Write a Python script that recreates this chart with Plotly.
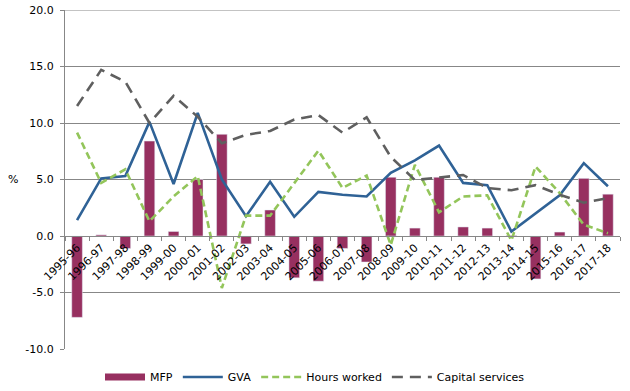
import plotly.graph_objects as go

years = ["1995-96","1996-97","1997-98","1998-99","1999-00","2000-01","2001-02","2002-03",
         "2003-04","2004-05","2005-06","2006-07","2007-08","2008-09","2009-10","2010-11",
         "2011-12","2012-13","2013-14","2014-15","2015-16","2016-17","2017-18"]
mfp = [-7.2, 0.1, -1.1, 8.4, 0.4, 5.0, 9.0, -0.7, 2.3, -3.7, -4.0, -1.1, -2.3, 5.2, 0.7, 5.2,
       0.8, 0.7, 0.05, -3.8, 0.35, 5.1, 3.7]
gva = [1.4, 5.1, 5.3, 10.1, 4.6, 10.9, 5.0, 1.75, 4.8, 1.7, 3.9, 3.65, 3.5, 5.6, 6.7, 8.0,
       4.7, 4.5, 0.4, 2.0, 3.6, 6.45, 4.4]
hours = [9.15, 4.7, 5.9, 1.3, 3.5, 5.3, -4.6, 1.8, 1.8, 4.7, 7.55, 4.25, 5.35, -0.8, 6.3, 2.1,
         3.5, 3.6, -0.4, 6.15, 3.8, 1.0, 0.25]
capital = [11.5, 14.7, 13.65, 10.0, 12.4, 10.55, 8.2, 8.95, 9.3, 10.3, 10.7, 9.15, 10.5, 7.0,
           4.95, 5.2, 5.4, 4.25, 4.05, 4.5, 3.65, 2.95, 3.35]
y_tickvals = [-10, -5, 0, 5, 10, 15, 20]
y_ticktext = ["-10.0", "-5.0", "0.0", "5.0", "10.0", "15.0", "20.0"]

FONT = "DejaVu Sans"
MFP_COLOR = "#973060"
GRID = "#878787"
fig = go.Figure()
fig.add_trace(go.Bar(x=years, y=mfp, name="MFP", marker_color=MFP_COLOR, width=0.44,
                     showlegend=False, legendgroup="mfp"))
# legend swatch for MFP (wide rectangle as in the reference)
fig.add_trace(go.Scatter(x=[None], y=[None], name="MFP", mode="lines", legendgroup="mfp",
                         line=dict(color=MFP_COLOR, width=7)))
fig.add_trace(go.Scatter(x=years, y=gva, name="GVA", mode="lines",
                         line=dict(color="#2F6296", width=2.6)))
fig.add_trace(go.Scatter(x=years, y=hours, name="Hours worked", mode="lines",
                         line=dict(color="#93C55A", width=2.6, dash="7px,4px")))
fig.add_trace(go.Scatter(x=years, y=capital, name="Capital services", mode="lines",
                         line=dict(color="#5F5F5F", width=2.6, dash="11px,7px")))

W, H = 630, 391
L, R, T, B = 65, 10, 10, 41.5
fig.update_layout(
    width=W, height=H,
    margin=dict(l=L, r=R, t=T, b=B, autoexpand=False, pad=0),
    plot_bgcolor="white", paper_bgcolor="white",
    font=dict(family=FONT, size=11, color="#000000"),
    showlegend=True,
    legend=dict(orientation="h", x=0.5, xanchor="center", xref="container",
                y=14 / H, yanchor="middle", yref="container",
                font=dict(family=FONT, size=11), itemwidth=40, tracegroupgap=0),
    xaxis=dict(type="category", anchor="free", position=1/3, tickangle=-45,
               showgrid=False, showline=True, linecolor=GRID, linewidth=1,
               ticks="outside", ticklen=4, tickcolor=GRID, tickson="boundaries",
               tickfont=dict(family=FONT, size=11), range=[-0.5, 22.5]),
    yaxis=dict(range=[-10, 20], tickvals=y_tickvals, ticktext=y_ticktext, showgrid=True,
               gridcolor=GRID, gridwidth=1, zeroline=False,
               showline=True, linecolor=GRID, linewidth=1,
               ticks="outside", ticklen=4, tickcolor=GRID,
               ticklabeloverflow="allow", ticklabelstandoff=4,
               tickfont=dict(family=FONT, size=11)),
    shapes=[dict(type="line", xref="paper", x0=0, x1=1, yref="y", y0=y_tickvals[-1],
                 y1=y_tickvals[-1], line=dict(color=GRID, width=1), layer="below")],
    annotations=[dict(text="%", x=(13 - L) / (W - L - R), y=5, xref="paper", yref="y",
                      xanchor="center", showarrow=False, font=dict(family=FONT, size=11))],
)
fig.write_html("out.html", config={"displayModeBar": False},
               post_script="document.body.style.margin='0';document.body.style.padding='0';")
